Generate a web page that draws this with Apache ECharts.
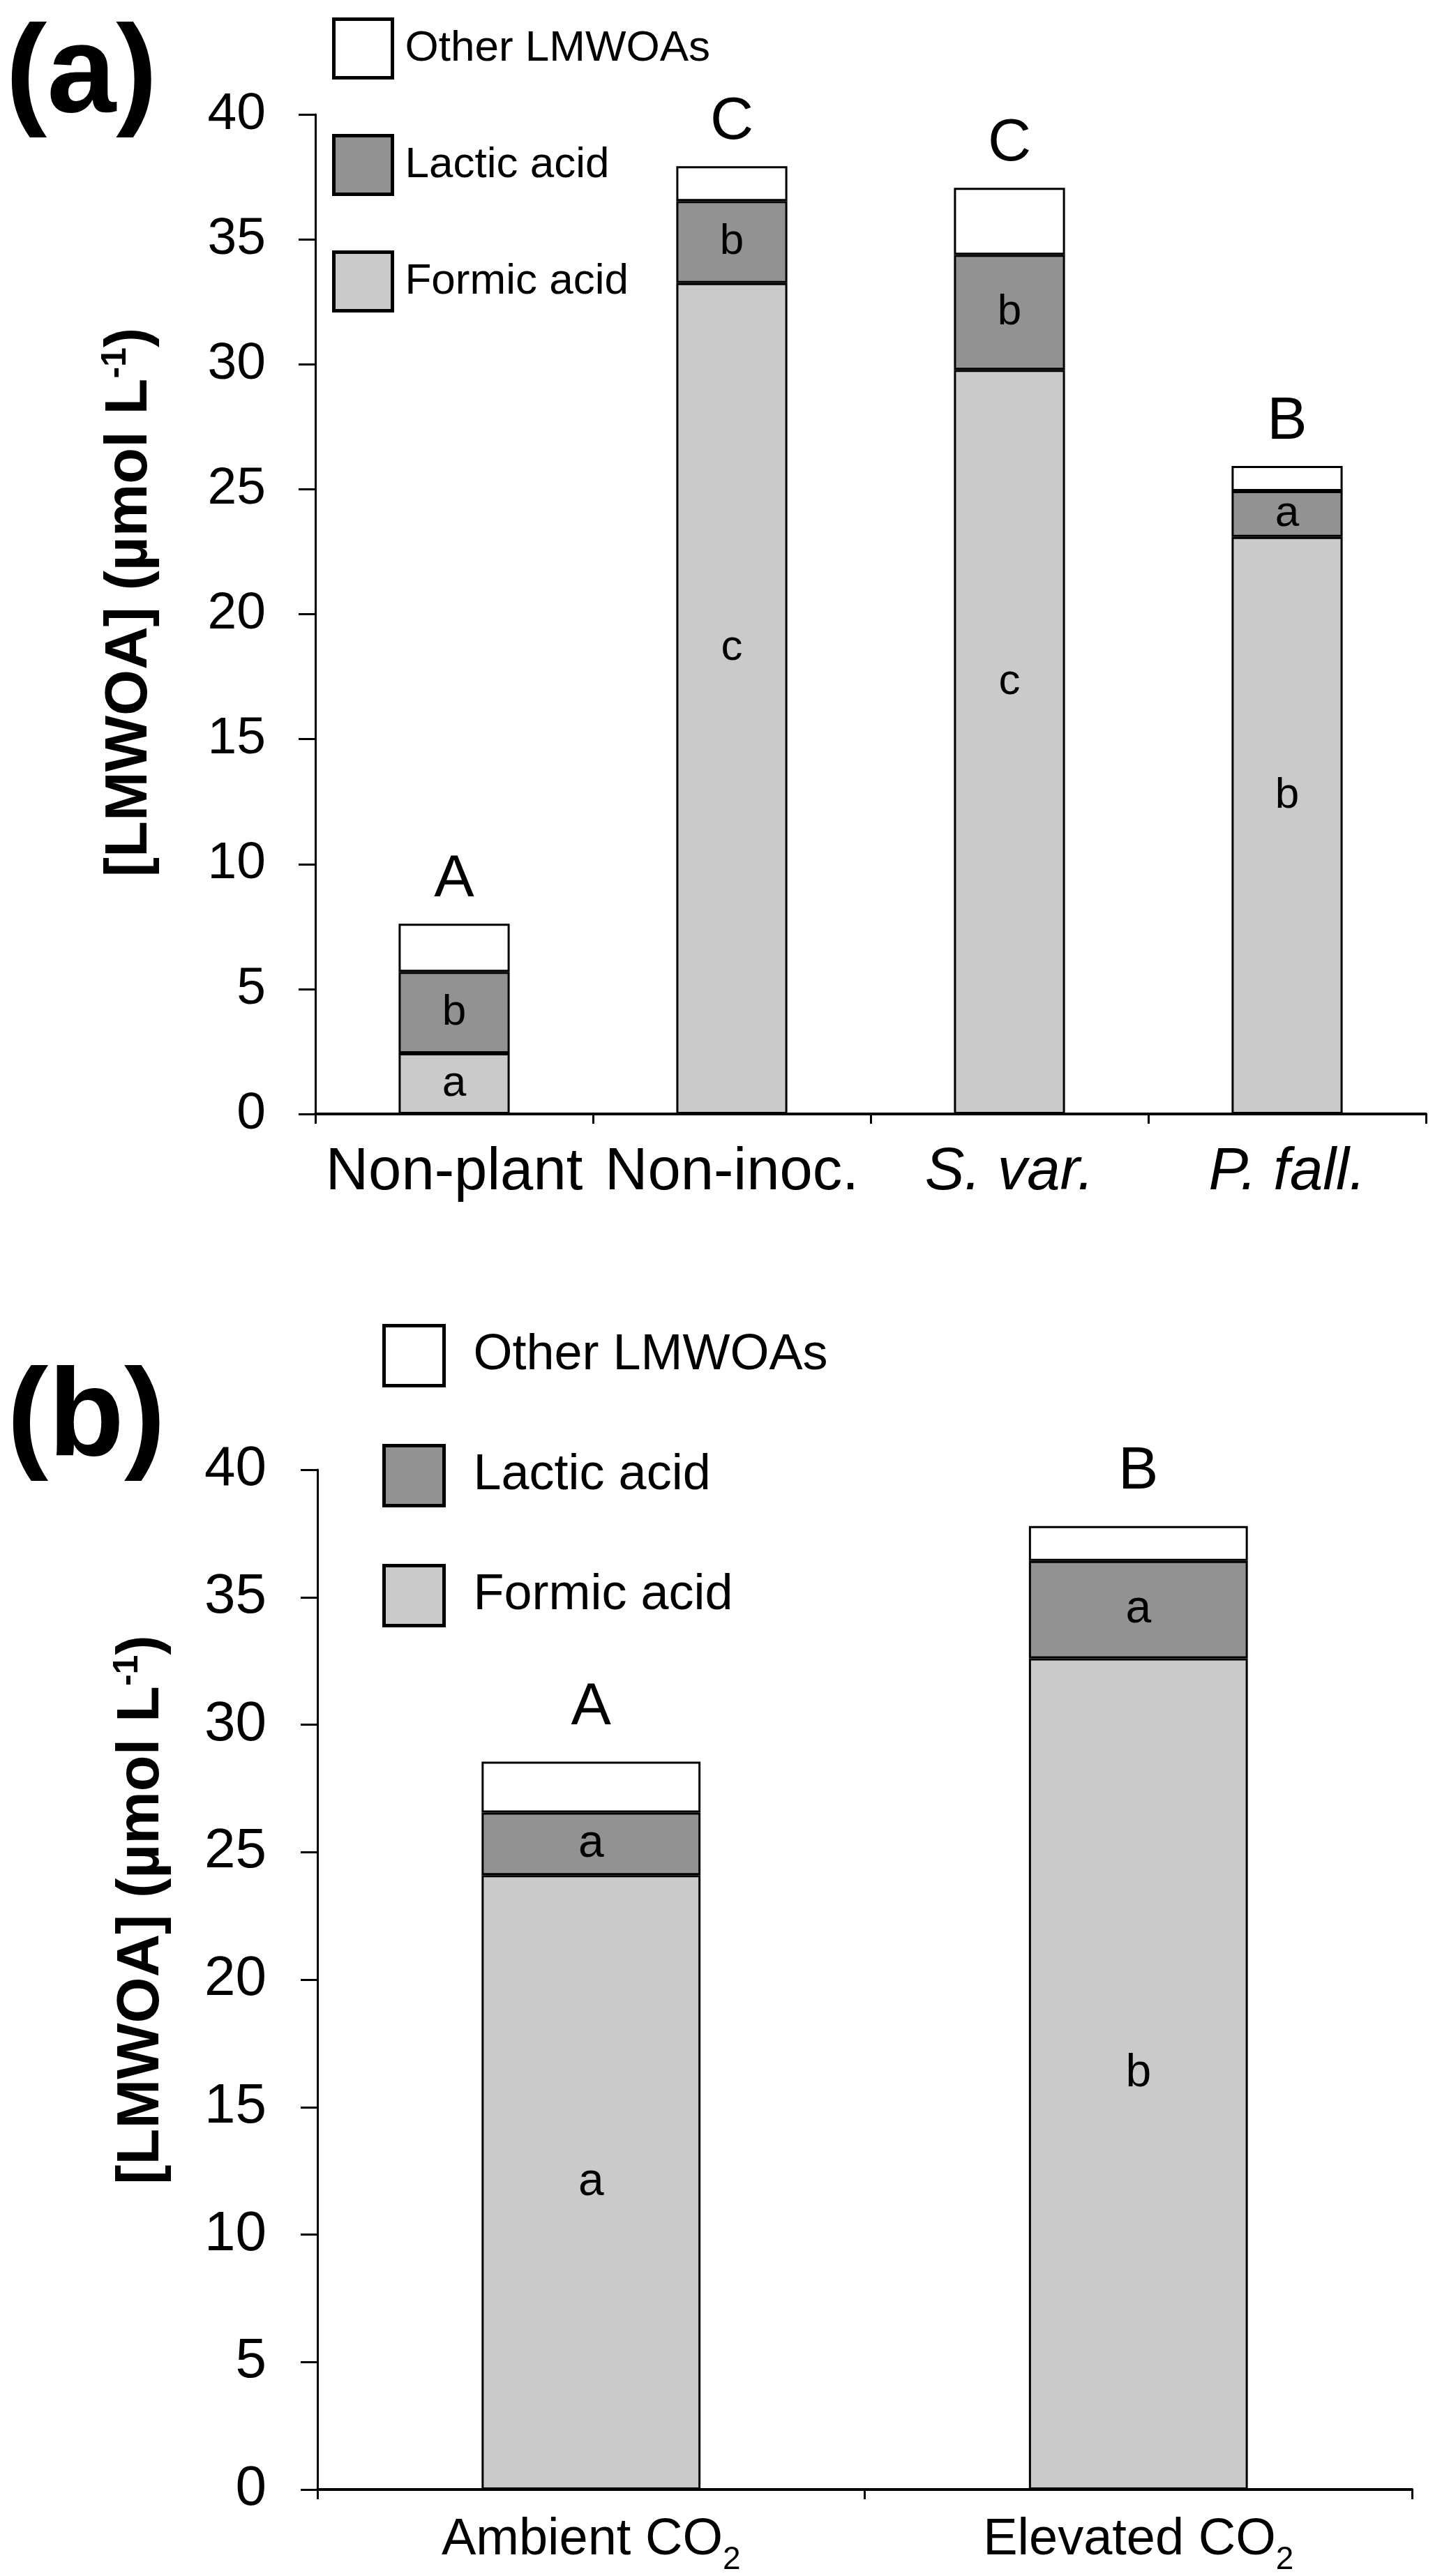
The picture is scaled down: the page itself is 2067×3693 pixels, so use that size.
<!DOCTYPE html>
<html>
<head>
<meta charset="utf-8">
<script src="https://cdn.jsdelivr.net/npm/echarts@6/dist/echarts.min.js"></script>
<style>
html,body{margin:0;padding:0;background:#fff;}
#chart{width:2067px;height:3693px;}
</style>
</head>
<body>
<div id="chart"></div>
<script>
// ---------- Data ----------
var seriesNames = ['Other LMWOAs', 'Lactic acid', 'Formic acid'];

var categoriesA = ['Non-plant', 'Non-inoc.', 'S. var.', 'P. fall.'];
var italicCats = ['S. var.', 'P. fall.'];
var formicA = [2.43, 33.25, 29.78, 23.09];
var lacticA = [3.26, 3.28, 4.60, 1.84];
var otherA  = [1.92, 1.40, 2.68, 1.00];
var formicLettersA = ['a', 'c', 'c', 'b'];
var lacticLettersA = ['b', 'b', 'b', 'a'];
var totalLettersA  = ['A', 'C', 'C', 'B'];

var categoriesB = ['Ambient CO2', 'Elevated CO2'];
var formicB = [24.1, 32.6];
var lacticB = [2.45, 3.82];
var otherB  = [2.0, 1.37];
var formicLettersB = ['a', 'b'];
var lacticLettersB = ['a', 'a'];
var totalLettersB  = ['A', 'B'];

var yTicks = {min: 0, max: 40, interval: 5};
var yAxisName = '[LMWOA] (µmol L{sup|-1})';

// ---------- Styles ----------
var FONT = 'Liberation Sans, Arial, Helvetica, sans-serif';
var colors = {'Other LMWOAs': '#ffffff', 'Lactic acid': '#929292', 'Formic acid': '#cacaca'};
// vertical nudge (px) of the in-bar letters of the formic segments in panel (a)
var formicLabelNudgeA = [0, -73, -86, -42];

function letterFmt(arr) { return function (p) { return arr[p.dataIndex]; }; }

function barSeries(name, data, xi, stack, letters, inner, fs, dist, nudge) {
  var items = data.map(function (v, i) {
    var it = {value: v};
    if (nudge) it.label = {offset: [0, nudge[i]]};
    return it;
  });
  return {
    name: name, type: 'bar', stack: stack, xAxisIndex: xi, yAxisIndex: xi,
    data: items, barWidth: '40%',
    itemStyle: {color: colors[name], borderColor: '#000', borderWidth: 3},
    emphasis: {disabled: true},
    label: {
      show: true,
      position: inner ? 'inside' : 'top',
      distance: dist || 5,
      formatter: letterFmt(letters),
      color: '#000', fontFamily: FONT, fontSize: fs
    }
  };
}

var chart = echarts.init(document.getElementById('chart'), null, {renderer: 'canvas'});

function yAxis(gi, fs, margin, nameGap, namePad) {
  return {
    type: 'value', gridIndex: gi, min: yTicks.min, max: yTicks.max, interval: yTicks.interval,
    name: yAxisName, nameLocation: 'middle', nameGap: nameGap,
    nameTextStyle: {
      fontFamily: FONT, fontSize: 85, fontWeight: 'bold', color: '#000', padding: namePad,
      rich: {sup: {fontFamily: FONT, fontSize: 50, fontWeight: 'bold', color: '#000', padding: [0, 0, 42, 0]}}
    },
    axisLine: {show: true, lineStyle: {color: '#000', width: 3}},
    axisTick: {show: true, length: 24, lineStyle: {color: '#000', width: 3}},
    axisLabel: {fontFamily: FONT, fontSize: fs, color: '#000', margin: margin},
    splitLine: {show: false}
  };
}

var option = {
  backgroundColor: '#fff',
  animation: false,
  grid: [
    {left: 452, right: 23, top: 164, height: 1433},
    {left: 455, right: 43, top: 2107, height: 1464}
  ],
  legend: [
    {
      data: seriesNames, orient: 'vertical', left: 471, top: 20,
      itemWidth: 84, itemHeight: 84, itemGap: 78, icon: 'rect',
      itemStyle: {borderColor: '#000', borderWidth: 5},
      textStyle: {fontFamily: FONT, fontSize: 62, color: '#000', padding: [0, 0, 0, 13]},
      selectedMode: false
    },
    {
      data: seriesNames, orient: 'vertical', left: 543, top: 1893,
      itemWidth: 86, itemHeight: 86, itemGap: 81, icon: 'rect',
      itemStyle: {borderColor: '#000', borderWidth: 5},
      textStyle: {fontFamily: FONT, fontSize: 72, color: '#000', padding: [0, 0, 0, 37]},
      selectedMode: false
    }
  ],
  xAxis: [
    {
      type: 'category', gridIndex: 0, data: categoriesA, boundaryGap: true,
      axisLine: {show: true, lineStyle: {color: '#000', width: 4}},
      axisTick: {show: true, length: 14, interval: 0, lineStyle: {color: '#000', width: 3}},
      axisLabel: {
        fontFamily: FONT, fontSize: 85, color: '#000', margin: 42, interval: 0,
        formatter: function (v) { return italicCats.indexOf(v) >= 0 ? '{i|' + v + '}' : v; },
        rich: {i: {fontFamily: FONT, fontSize: 85, fontStyle: 'italic', color: '#000'}}
      }
    },
    {
      type: 'category', gridIndex: 1, data: categoriesB, boundaryGap: true,
      axisLine: {show: true, lineStyle: {color: '#000', width: 4}},
      axisTick: {show: true, length: 14, interval: 0, lineStyle: {color: '#000', width: 3}},
      axisLabel: {
        fontFamily: FONT, fontSize: 74, color: '#000', margin: 22, interval: 0,
        formatter: function (v) { return v.replace(/2$/, '') + '{sub|2}'; },
        rich: {sub: {fontFamily: FONT, fontSize: 46, color: '#000', padding: [56, 0, 0, 0]}}
      }
    }
  ],
  yAxis: [
    yAxis(0, 75, 71, 219, [0, 0, 0, 34]),
    yAxis(1, 80, 73, 205, [0, 0, 0, 200])
  ],
  series: [
    barSeries('Formic acid', formicA, 0, 'a', formicLettersA, true, 62, 5, formicLabelNudgeA),
    barSeries('Lactic acid', lacticA, 0, 'a', lacticLettersA, true, 62),
    barSeries('Other LMWOAs', otherA, 0, 'a', totalLettersA, false, 86, 20),
    barSeries('Formic acid', formicB, 1, 'b', formicLettersB, true, 66),
    barSeries('Lactic acid', lacticB, 1, 'b', lacticLettersB, true, 66),
    barSeries('Other LMWOAs', otherB, 1, 'b', totalLettersB, false, 86, 34)
  ],
  graphic: [
    {type: 'text', left: 8, top: 22, style: {text: '(a)', fontFamily: FONT, fontSize: 178, fontWeight: 'bold', fill: '#000'}},
    {type: 'text', left: 10, top: 1948, style: {text: '(b)', fontFamily: FONT, fontSize: 178, fontWeight: 'bold', fill: '#000'}}
  ]
};
chart.setOption(option);
</script>
</body>
</html>
